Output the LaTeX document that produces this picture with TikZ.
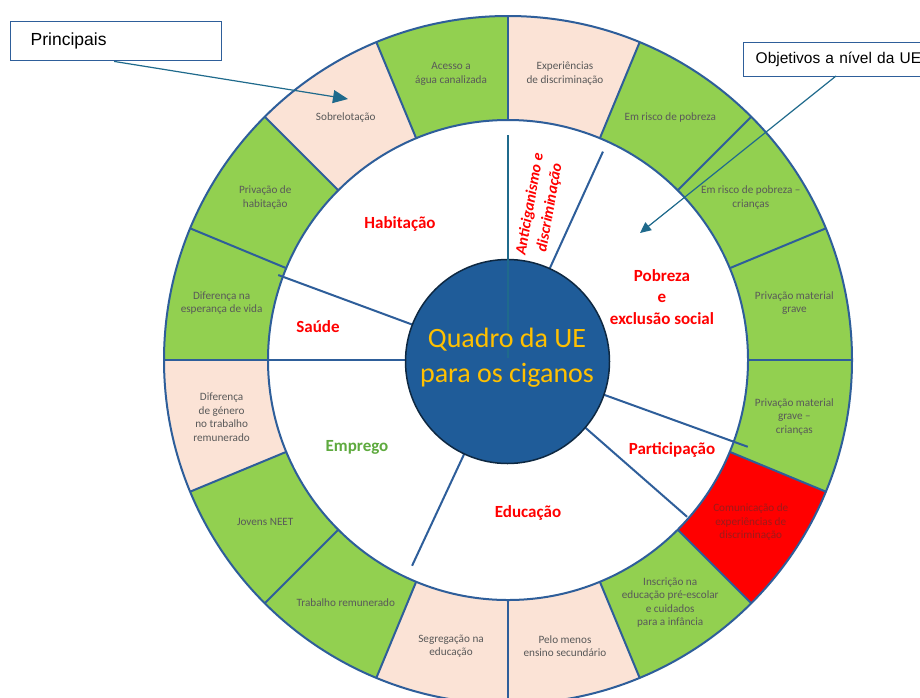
\documentclass[tikz,border=0pt]{standalone}
\usepackage{fontspec}
\setmainfont{Carlito}
\newfontfamily\boxfont{Liberation Sans}
\usetikzlibrary{arrows.meta,calc}
\definecolor{ringblue}{HTML}{2E5E9A}
\definecolor{grn}{HTML}{92D050}
\definecolor{pch}{HTML}{FBE3D6}
\definecolor{redseg}{HTML}{FF0000}
\definecolor{hubblue}{HTML}{1F5C99}
\definecolor{hubline}{HTML}{0E2841}
\definecolor{gold}{HTML}{FFC000}
\definecolor{seggray}{HTML}{595959}
\definecolor{redtext}{HTML}{9B1B1B}
\definecolor{catred}{HTML}{FF0000}
\definecolor{catgreen}{HTML}{5EAA3E}
\definecolor{teal}{HTML}{1F6A8C}
\tikzset{
  ringline/.style={draw=ringblue, line width=2pt},
  spoke/.style={draw=ringblue, line width=2pt},
  seglabel/.style={text=seggray, font=\fontsize{11.2}{13.5}\selectfont, align=center, inner sep=0pt},
  catlabel/.style={text=catred, font=\bfseries\fontsize{17}{21.5}\selectfont, align=center, inner sep=0pt},
  callbox/.style={draw=ringblue, line width=1.4pt, fill=white, anchor=north west, align=left, inner ysep=0pt},
  callarrow/.style={draw=teal, line width=1.2pt},
}
\begin{document}
\begin{tikzpicture}[x=1pt,y=1pt]
\useasboundingbox (0,0) rectangle (920,-697);
\clip (0,0) rectangle (920,-697);
\fill[white] (0,0) rectangle (920,-697);
\coordinate (c) at (508,-360);
\begin{scope}[shift={(c)}]
  \foreach \a/\col in {0/grn,22.5/grn,45/grn,67.5/pch,90/grn,112.5/pch,135/grn,157.5/grn,180/pch,202.5/grn,225/grn,247.5/pch,270/pch,292.5/grn,315/redseg,337.5/grn}{
    \pgfmathsetmacro\b{\a+22.5}
    \fill[\col] (\a:344) arc[start angle=\a, end angle=\b, radius=344] -- (\b:240) arc[start angle=\b, end angle=\a, radius=240] -- cycle;
  }
  \draw[ringline] (0,0) circle[radius=344];
  \draw[ringline] (0,0) circle[radius=240];
  \foreach \a in {0,22.5,...,337.5}{
    \draw[ringline] (\a:240) -- (\a:344);
  }
  % segment labels
  \node[seglabel] (s00) at (11.25:292) {Privação material\\grave};
  \node[seglabel] (s01) at (33.75:292) {Em risco de pobreza –\\crianças};
  \node[seglabel] (s02) at (56.25:292) {Em risco de pobreza};
  \node[seglabel] (s03) at (78.75:292) {Experiências\\de discriminação};
  \node[seglabel] (s04) at (101.25:292) {Acesso a\\água canalizada};
  \node[seglabel] (s05) at (123.75:292) {Sobrelotação};
  \node[seglabel] (s06) at (146.25:292) {Privação de\\habitação};
  \node[seglabel] (s07) at (168.75:292) {Diferença na\\esperança de vida};
  \node[seglabel] (s08) at (191.25:292) {Diferença\\de género\\no trabalho\\remunerado};
  \node[seglabel] (s09) at (213.75:292) {Jovens NEET};
  \node[seglabel] (s10) at (236.25:292) {Trabalho remunerado};
  \node[seglabel] (s11) at (258.75:292) {Segregação na\\educação};
  \node[seglabel] (s12) at (281.25:292) {Pelo menos\\ensino secundário};
  \node[seglabel] (s13) at (303.75:292) {Inscrição na\\educação pré-escolar\\e cuidados\\para a infância};
  \node[seglabel, text=redtext] (s14) at (326.25:292) {Comunicação de\\experiências de\\discriminação};
  \node[seglabel] (s15) at (348.75:292) {Privação material\\grave –\\crianças};
  % spokes
  \coordinate (k1a) at (65.5:96);   \coordinate (k1b) at (65.5:229);
  \coordinate (k2a) at (159.7:98);  \coordinate (k2b) at (159.7:245);
  \coordinate (k3a) at (180:98);    \coordinate (k3b) at (180:250);
  \coordinate (k4a) at (245:98);    \coordinate (k4b) at (245:227);
  \coordinate (k5a) at (-41.2:98);  \coordinate (k5b) at (-41.2:238);
  \coordinate (k6a) at (-19.9:98);  \coordinate (k6b) at (-19.9:255);
  \coordinate (k0a) at (90:225);    \coordinate (k0b) at (90:2);
\end{scope}
\foreach \k in {1,...,6}{ \draw[spoke] (k\k a) -- (k\k b); }
% hub
\node[circle, fill=hubblue, draw=hubline, line width=1.5pt, minimum size=204pt, inner sep=0pt] (hub) at (507.5,-361.5) {};
\draw[teal, line width=1.4pt] (k0a) -- (k0b);
\node[text=gold, font=\fontsize{28}{35}\selectfont, align=center, inner sep=0pt] (hubtext) at (507,-358) {Quadro da UE\\para os ciganos};
% category labels
\node[catlabel] (habit) at (400,-224) {Habitação};
\node[catlabel] (saude) at (318,-327) {Saúde};
\node[catlabel, text=catgreen] (empr) at (357,-447) {Emprego};
\node[catlabel] (educ) at (528,-513) {Educação};
\node[catlabel] (part) at (672,-450) {Participação};
\node[catlabel] (pobr) at (662,-297) {Pobreza\\e\\exclusão social};
\node[catlabel, font=\bfseries\itshape\fontsize{15.5}{20}\selectfont, rotate=80] (anti) at (540,-206) {Anticiganismo e\\discriminação};
% callout boxes
\node[callbox, minimum width=211pt, minimum height=39pt, text width=171pt, inner xsep=20pt, font=\boxfont\fontsize{17.5}{20}\selectfont] (pbox) at (10,-21) {\raisebox{-1.5pt}{Principais}};
\node[callbox, minimum width=190pt, minimum height=34pt, text width=170pt, inner xsep=10pt, font=\boxfont\fontsize{15.5}{18}\selectfont] (obox) at (743,-42) {\hspace*{2pt}Objetivos a nível da UE};
\coordinate (tipA) at (348,-99);
\coordinate (tipB) at (640,-233);
\draw[callarrow, -{Triangle[length=15pt,width=13pt]}] ($(pbox.south west)!0.49!(pbox.south east)$) -- (tipA);
\draw[callarrow, -{Triangle[length=11pt,width=10pt]}] (836,-76) -- (tipB);
\end{tikzpicture}
\end{document}
